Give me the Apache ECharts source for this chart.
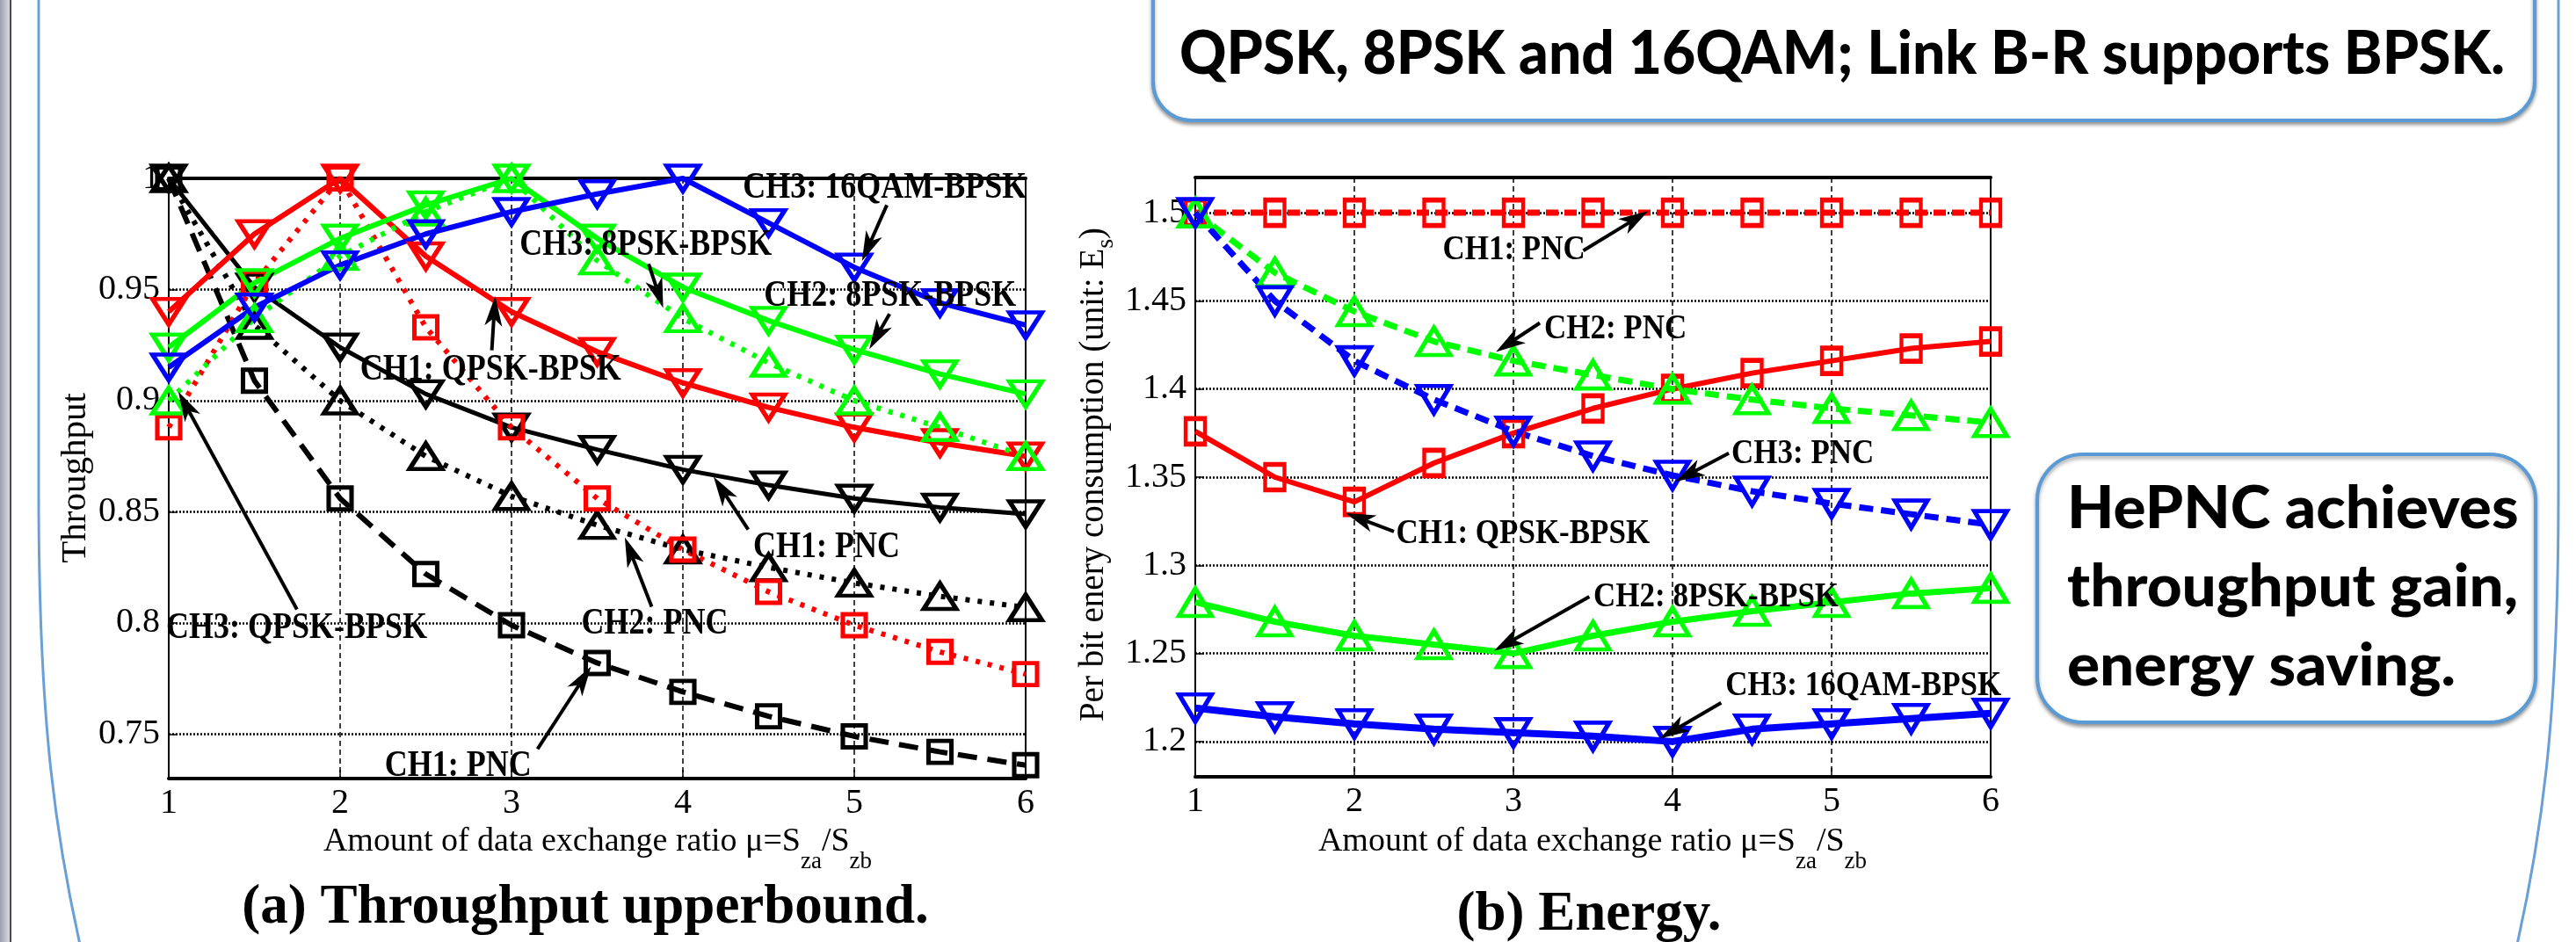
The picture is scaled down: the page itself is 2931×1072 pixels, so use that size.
<!DOCTYPE html>
<html>
<head>
<meta charset="utf-8">
<title>Throughput and energy</title>
<script src="https://cdn.jsdelivr.net/npm/echarts@6/dist/echarts.min.js"></script>
<style>
  html, body { margin: 0; padding: 0; background: #fff; }
  #chart { width: 2931px; height: 1072px; }
</style>
</head>
<body>
<div id="chart"></div>
<script>
// data exchange ratio mu = Sza/Szb
var ratios = [1, 1.5, 2, 2.5, 3, 3.5, 4, 4.5, 5, 5.5, 6];

// (a) throughput upperbound
var thrCh1Pnc    = [1.0, 0.909, 0.856, 0.822, 0.799, 0.782, 0.769, 0.758, 0.749, 0.742, 0.736];
var thrCh2Pnc    = [1.0, 0.934, 0.900, 0.875, 0.857, 0.844, 0.833, 0.825, 0.818, 0.812, 0.807];
var thrCh3Pnc    = [1.0, 0.951, 0.924, 0.903, 0.888, 0.878, 0.869, 0.862, 0.856, 0.852, 0.849];
var thrCh1Qpsk   = [0.888, 0.953, 1.0, 0.933, 0.888, 0.856, 0.833, 0.814, 0.799, 0.787, 0.777];
var thrCh3Qpsk   = [0.940, 0.975, 1.0, 0.965, 0.940, 0.922, 0.908, 0.897, 0.888, 0.881, 0.875];
var thrCh2Psk8   = [0.900, 0.937, 0.965, 0.985, 1.0, 0.963, 0.937, 0.917, 0.900, 0.888, 0.875];
var thrCh3Psk8   = [0.924, 0.953, 0.973, 0.988, 1.0, 0.973, 0.951, 0.936, 0.923, 0.912, 0.903];
var thrCh3Qam16  = [0.915, 0.942, 0.961, 0.975, 0.985, 0.993, 1.0, 0.980, 0.960, 0.944, 0.934];

// (b) per bit energy consumption
var enCh1Pnc   = [1.5, 1.5, 1.5, 1.5, 1.5, 1.5, 1.5, 1.5, 1.5, 1.5, 1.5];
var enCh1Qpsk  = [1.376, 1.350, 1.336, 1.358, 1.375, 1.389, 1.400, 1.409, 1.416, 1.423, 1.427];
var enCh2Pnc   = [1.5, 1.466, 1.444, 1.427, 1.416, 1.408, 1.400, 1.394, 1.389, 1.385, 1.381];
var enCh2Psk8  = [1.279, 1.268, 1.260, 1.255, 1.250, 1.260, 1.268, 1.274, 1.279, 1.284, 1.287];
var enCh3Pnc   = [1.5, 1.450, 1.416, 1.394, 1.376, 1.362, 1.351, 1.342, 1.335, 1.329, 1.323];
var enCh3Qam16 = [1.219, 1.214, 1.210, 1.207, 1.205, 1.203, 1.200, 1.207, 1.210, 1.213, 1.216];

// annotation labels (data units): text position, arrow tail, arrow tip
var thrNotes = [
    { text: 'CH3: 16QAM-BPSK', at: [4.35, 0.9955], from: [5.19, 0.988], to: [5.045, 0.9628] },
    { text: 'CH3: 8PSK-BPSK', at: [3.048, 0.970], from: [3.80, 0.9615], to: [3.885, 0.9417] },
    { text: 'CH2: 8PSK-BPSK', at: [4.473, 0.947], from: [5.206, 0.939], to: [5.088, 0.9232] },
    { text: 'CH1: QPSK-BPSK', at: [2.117, 0.9136], from: [2.885, 0.9227], to: [2.905, 0.947] },
    { text: 'CH1: PNC', at: [4.41, 0.8338], from: [4.381, 0.842], to: [4.179, 0.8658] },
    { text: 'CH2: PNC', at: [3.408, 0.7994], from: [3.818, 0.8073], to: [3.661, 0.8385] },
    { text: 'CH3: QPSK-BPSK', at: [0.985, 0.7974], from: [1.748, 0.8061], to: [1.056, 0.904] },
    { text: 'CH1: PNC', at: [2.26, 0.7354], from: [3.152, 0.7433], to: [3.464, 0.7804] }
];
var enNotes = [
    { text: 'CH1: PNC', at: [2.555, 1.479], from: [3.439, 1.4785], to: [3.848, 1.501] },
    { text: 'CH2: PNC', at: [3.193, 1.434], from: [3.166, 1.4375], to: [2.890, 1.421] },
    { text: 'CH3: PNC', at: [4.370, 1.363], from: [4.354, 1.3636], to: [4.017, 1.3475] },
    { text: 'CH1: QPSK-BPSK', at: [2.262, 1.3179], from: [2.249, 1.3192], to: [1.945, 1.3296] },
    { text: 'CH2: 8PSK-BPSK', at: [3.503, 1.2821], from: [3.477, 1.2822], to: [2.878, 1.2515] },
    { text: 'CH3: 16QAM-BPSK', at: [4.333, 1.2316], from: [4.306, 1.222], to: [3.919, 1.2017] }
];

var RED = '#ff0000', GREEN = '#00ff00', BLUE = '#0000ff', BLACK = '#000000';
var SERIF = '"Liberation Serif", "Times New Roman", serif';

var chart = echarts.init(document.getElementById('chart'));

function mk(name, vals, gi, color, dash, shape, width) {
    var sym = shape === 'sq' ? 'rect' : 'triangle';
    var size;
    if (gi === 0) size = shape === 'sq' ? [26, 25] : [37, 29];
    else size = shape === 'sq' ? [22, 29] : [37, 31];
    return {
        name: name,
        type: 'line',
        xAxisIndex: gi * 2,
        yAxisIndex: gi,
        data: ratios.map(function (r, i) { return [r, vals[i]]; }),
        symbol: sym,
        symbolSize: size,
        symbolRotate: shape === 'down' ? 180 : 0,
        showAllSymbol: true,
        lineStyle: { color: color, width: width, type: dash, cap: 'butt' },
        itemStyle: { color: 'rgba(0,0,0,0)', borderColor: color, borderWidth: 5 },
        emphasis: { disabled: true },
        silent: true,
        z: 5
    };
}

function xAxes(gi) {
    return [{
        gridIndex: gi, type: 'value', min: 1, max: 6, interval: 1, position: 'bottom',
        axisLine: { onZero: false, lineStyle: { color: BLACK, width: 4 } },
        axisTick: { inside: true, length: 10, lineStyle: { color: BLACK, width: 1.5 } },
        axisLabel: { color: BLACK, fontFamily: SERIF, fontSize: 40, margin: 8 },
        splitLine: { show: true, lineStyle: { color: BLACK, width: 1.5, type: [6, 4] } }
    }, {
        gridIndex: gi, type: 'value', min: 1, max: 6, interval: 1, position: 'top',
        axisLine: { onZero: false, lineStyle: { color: BLACK, width: 4 } },
        axisTick: { show: false }, axisLabel: { show: false }, splitLine: { show: false }
    }];
}

function yAxis(gi, min, max) {
    return {
        gridIndex: gi, type: 'value', min: min, max: max, splitNumber: 5,
        axisLine: { show: true, lineStyle: { color: BLACK, width: 2 } },
        axisTick: { show: true, inside: true, length: 10, lineStyle: { color: BLACK, width: 1.5 } },
        axisLabel: { color: BLACK, fontFamily: SERIF, fontSize: 40, margin: 10,
                     showMinLabel: false, showMaxLabel: gi === 0 },
        splitLine: { show: true, lineStyle: { color: BLACK, width: 2.5, type: [2, 2] } }
    };
}

chart.setOption({
    animation: false,
    backgroundColor: '#ffffff',
    grid: [
        { left: 192, top: 203, width: 975, height: 683, show: true, borderColor: BLACK, borderWidth: 2 },
        { left: 1360, top: 202, width: 905, height: 682, show: true, borderColor: BLACK, borderWidth: 2 }
    ],
    xAxis: xAxes(0).concat(xAxes(1)),
    yAxis: [yAxis(0, 0.73, 1.0), yAxis(1, 1.18, 1.52)],
    series: [
        mk('CH1: PNC', thrCh1Pnc, 0, BLACK, [22, 12], 'sq', 6),
        mk('CH2: PNC', thrCh2Pnc, 0, BLACK, [5, 9], 'up', 6),
        mk('CH3: PNC', thrCh3Pnc, 0, BLACK, 'solid', 'down', 5),
        mk('CH1: QPSK-BPSK', thrCh1Qpsk, 0, RED, [5, 9], 'sq', 6),
        mk('CH3: QPSK-BPSK', thrCh3Qpsk, 0, RED, 'solid', 'down', 6),
        mk('CH2: 8PSK-BPSK', thrCh2Psk8, 0, GREEN, [5, 9], 'up', 6),
        mk('CH3: 8PSK-BPSK', thrCh3Psk8, 0, GREEN, 'solid', 'down', 6),
        mk('CH3: 16QAM-BPSK', thrCh3Qam16, 0, BLUE, 'solid', 'down', 6),
        mk('CH1: PNC', enCh1Pnc, 1, RED, [14, 7], 'sq', 7),
        mk('CH1: QPSK-BPSK', enCh1Qpsk, 1, RED, 'solid', 'sq', 6),
        mk('CH2: PNC', enCh2Pnc, 1, GREEN, [16, 9], 'up', 7),
        mk('CH2: 8PSK-BPSK', enCh2Psk8, 1, GREEN, 'solid', 'up', 7),
        mk('CH3: PNC', enCh3Pnc, 1, BLUE, [16, 9], 'down', 7),
        mk('CH3: 16QAM-BPSK', enCh3Qam16, 1, BLUE, 'solid', 'down', 8)
    ]
});

// ---------- decorations, titles and annotations ----------
var ctx = document.createElement('canvas').getContext('2d');
function textW(font, s) { ctx.font = font; return ctx.measureText(s).width; }

function txt(x, y, s, font, align, sx, sy) {
    return {
        type: 'text', x: x, y: y, scaleX: sx || 1, scaleY: sy || 1, z: 100, silent: true,
        style: { text: s, font: font, fill: BLACK,
                 align: align || 'left', verticalAlign: 'middle',
                 textAlign: align || 'left', textVerticalAlign: 'middle' }
    };
}

// a row of text pieces (for subscripts), centred on x0
function row(pieces, x0, y0) {
    var total = 0;
    pieces.forEach(function (p) { p.w = textW(p.f, p.t); total += p.w; });
    var x = x0 - total / 2, out = [];
    pieces.forEach(function (p) { out.push(txt(x, y0 + (p.dy || 0), p.t, p.f, 'left')); x += p.w; });
    return out;
}

function arrow(a, b) {
    var dx = b[0] - a[0], dy = b[1] - a[1], L = Math.sqrt(dx * dx + dy * dy);
    var ux = dx / L, uy = dy / L, nx = -uy, ny = ux;
    var hl = 34, hw = 10, notch = 9;
    var base = [b[0] - ux * hl, b[1] - uy * hl];
    var back = [b[0] - ux * (hl - notch), b[1] - uy * (hl - notch)];
    return [
        { type: 'line', z: 100, silent: true, shape: { x1: a[0], y1: a[1], x2: back[0], y2: back[1] },
          style: { stroke: BLACK, lineWidth: 4 } },
        { type: 'polygon', z: 100, silent: true,
          shape: { points: [b, [base[0] + nx * hw, base[1] + ny * hw], back, [base[0] - nx * hw, base[1] - ny * hw]] },
          style: { fill: BLACK } }
    ];
}

var g = [];
var BOXBLUE = '#5b9bd5', PANEL = '#6a9fd8';

// slide background pieces
g.push({ type: 'rect', z: 0, silent: true, shape: { x: 0, y: 0, width: 11, height: 1072 },
         style: { fill: { type: 'linear', x: 0, y: 0, x2: 1, y2: 0,
                          colorStops: [{ offset: 0, color: '#9c9fb2' }, { offset: 1, color: '#d9d9de' }] } } });
g.push({ type: 'line', z: 0, silent: true, shape: { x1: 12, y1: 0, x2: 12, y2: 1072 }, style: { stroke: '#4a4a4a', lineWidth: 2 } });
g.push({ type: 'line', z: 0, silent: true, shape: { x1: 44, y1: -10, x2: 44, y2: 560 }, style: { stroke: PANEL, lineWidth: 3 } });
g.push({ type: 'bezierCurve', z: 0, silent: true,
         shape: { x1: 44, y1: 560, cpx1: 44, cpy1: 800, cpx2: 58, cpy2: 960, x2: 112, y2: 1160 },
         style: { stroke: PANEL, lineWidth: 3, fill: null } });
g.push({ type: 'line', z: 0, silent: true, shape: { x1: 2911, y1: -10, x2: 2911, y2: 560 }, style: { stroke: PANEL, lineWidth: 3 } });
g.push({ type: 'bezierCurve', z: 0, silent: true,
         shape: { x1: 2911, y1: 560, cpx1: 2911, cpy1: 800, cpx2: 2897, cpy2: 960, x2: 2843, y2: 1160 },
         style: { stroke: PANEL, lineWidth: 3, fill: null } });

// top message box
g.push({ type: 'rect', z: 1, silent: true, shape: { x: 1312, y: -80, width: 1572, height: 217, r: 44 },
         style: { fill: '#ffffff', stroke: BOXBLUE, lineWidth: 4, shadowBlur: 4, shadowOffsetY: 3, shadowColor: 'rgba(0,0,0,0.35)' } });
var topMsg = 'QPSK, 8PSK and 16QAM; Link B-R supports BPSK.';
var topFont = '900 68px Lato, "Open Sans", sans-serif';
g.push(txt(1342, 62, topMsg, topFont, 'left', 1508 / textW(topFont, topMsg), 1));

// HePNC box
g.push({ type: 'rect', z: 1, silent: true, shape: { x: 2318, y: 517, width: 567, height: 305, r: 52 },
         style: { fill: '#ffffff', stroke: BOXBLUE, lineWidth: 4, shadowBlur: 4, shadowOffsetY: 3, shadowColor: 'rgba(0,0,0,0.35)' } });
var boxFont = '900 66px Lato, "Open Sans", sans-serif';
var boxScale = 513 / textW(boxFont, 'throughput gain,');
g.push(txt(2352, 580, 'HePNC achieves', boxFont, 'left', boxScale, 1));
g.push(txt(2352, 669, 'throughput gain,', boxFont, 'left', boxScale, 1));
g.push(txt(2352, 759, 'energy saving.', boxFont, 'left', boxScale, 1));

// captions
var capFont = 'bold 63px ' + SERIF;
g.push(txt(666, 1034, '(a) Throughput upperbound.', capFont, 'center'));
g.push(txt(1808, 1042, '(b) Energy.', capFont, 'center'));

// axis names
var mainF = '38px ' + SERIF, subF = '27px ' + SERIF;
function xName(cx) {
    return row([
        { t: 'Amount of data exchange ratio \u03bc=S', f: mainF },
        { t: 'za', f: subF, dy: 23 },
        { t: '/S', f: mainF },
        { t: 'zb', f: subF, dy: 23 }
    ], cx, 958);
}
g = g.concat(xName(680), xName(1812));
g.push({ type: 'group', x: 86, y: 544, rotation: Math.PI / 2, children: row([{ t: 'Throughput', f: '41px ' + SERIF }], 0, 0) });
g.push({ type: 'group', x: 1245, y: 540, rotation: Math.PI / 2, children: row([
    { t: 'Per bit enery consumption (unit: E', f: '39px ' + SERIF },
    { t: 's', f: '28px ' + SERIF, dy: 14 },
    { t: ')', f: '39px ' + SERIF }
], 0, 0) });

// annotations
function notes(list, seriesIndex, size) {
    var font = 'bold ' + size + 'px ' + SERIF;
    list.forEach(function (n) {
        var p = chart.convertToPixel({ seriesIndex: seriesIndex }, n.at);
        var a = chart.convertToPixel({ seriesIndex: seriesIndex }, n.from);
        var b = chart.convertToPixel({ seriesIndex: seriesIndex }, n.to);
        g.push(txt(p[0], p[1], n.text, font, 'left', 1, 1.15));
        g = g.concat(arrow(a, b));
    });
}
notes(thrNotes, 0, 36);
notes(enNotes, 8, 35);

chart.setOption({ graphic: g });
</script>
</body>
</html>
